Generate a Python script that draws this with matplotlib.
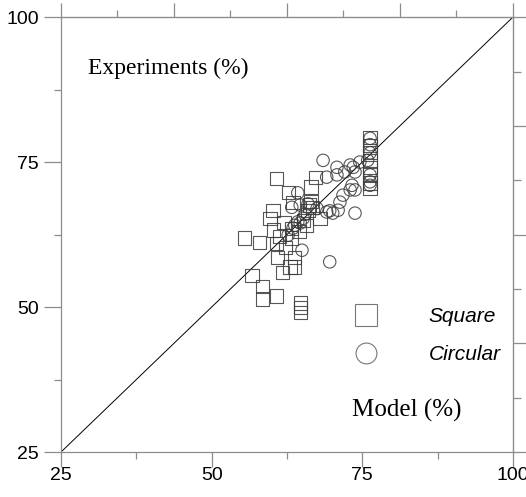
import numpy as np
import matplotlib.pyplot as plt
from matplotlib.lines import Line2D

# model vs experiment values (%) for the two section shapes
square_model = [60.7, 67.3, 66.5, 62.7, 63.5, 60.2, 59.7, 60.3, 61.3, 60.8,
                62.2, 61.0, 63.8, 63.8, 63.0, 61.8, 55.4, 57.9, 56.7, 58.4,
                58.4, 60.7, 64.7, 64.7, 64.7, 66.3, 66.8, 68.0, 63.2, 63.3,
                65.8, 66.0, 64.5, 65.3, 66.5, 62.0,
                76.3, 76.3, 76.3, 76.3, 76.3, 76.3, 76.3, 76.3]
square_exp = [72.2, 72.4, 70.7, 69.7, 68.1, 66.7, 65.3, 63.3, 62.2, 60.9,
              60.3, 58.6, 58.5, 56.9, 56.9, 56.0, 61.9, 61.2, 55.5, 53.6,
              51.4, 51.9, 50.7, 49.9, 49.1, 67.6, 67.2, 65.3, 61.9, 63.6,
              64.1, 66.7, 63.0, 65.0, 68.2, 64.6,
              79.3, 77.9, 76.6, 75.3, 74.0, 72.8, 71.4, 70.5]

circle_model = [68.5, 70.8, 69.1, 72.1, 73.5, 74.6, 75.9, 73.8, 73.0, 73.8,
                73.3, 71.8, 71.3, 70.1, 71.0, 73.8, 64.3, 64.7, 63.3, 69.1,
                64.3, 63.8, 65.2, 65.0, 69.6, 69.6, 63.5, 64.7, 62.7, 70.8,
                73.0, 67.5, 66.0, 65.5,
                76.3, 76.3, 76.3, 76.3, 76.3, 76.3]
circle_exp = [75.3, 72.8, 72.4, 73.3, 74.1, 75.0, 75.3, 73.3, 70.2, 70.2,
              71.0, 69.3, 68.1, 66.2, 66.7, 66.2, 69.7, 67.6, 67.2, 66.4,
              64.7, 64.1, 65.3, 59.8, 57.8, 66.6, 63.6, 64.5, 62.4, 74.1,
              74.5, 67.0, 67.8, 66.0,
              79.1, 78.0, 76.6, 72.8, 71.6, 71.0]

major = [25, 50, 75, 100]
minor = [37.5, 62.5, 87.5]
frame_major = [25 + 18.75 * k for k in range(5)]
frame_minor = [34.375 + 18.75 * k for k in range(4)]

grey = '#8c8c8c'

fig = plt.figure(figsize=(5.26, 4.97), dpi=100)
ax = fig.add_axes([0.116, 0.0905, 0.859, 0.875])

ax.plot([25, 100], [25, 100], color='black', lw=0.7, zorder=1)
ax.scatter(square_model, square_exp, marker='s', s=90, facecolors='none',
           edgecolors='#3a3a3a', linewidths=0.8, alpha=0.85, zorder=2)
ax.scatter(circle_model, circle_exp, marker='o', s=80, facecolors='none',
           edgecolors='#3a3a3a', linewidths=0.8, alpha=0.85, zorder=2)

ax.set_xlim(25, 100)
ax.set_ylim(25, 100)
for sp in ax.spines.values():
    sp.set_color(grey)
    sp.set_linewidth(0.9)

ax.set_xticks(major)
ax.set_xticks(minor, minor=True)
ax.set_yticks(major)
ax.set_yticks(minor, minor=True)
ax.tick_params(axis='both', which='both', direction='out', color=grey,
               width=0.9, labelsize=14)
ax.tick_params(axis='x', which='major', length=11, pad=0)
ax.tick_params(axis='y', which='major', length=12, pad=4)
ax.tick_params(axis='both', which='minor', length=5)
for lab in ax.get_xticklabels() + ax.get_yticklabels():
    lab.set_fontfamily('Liberation Sans')

top = ax.secondary_xaxis('top')
top.set_xticks(frame_major)
top.set_xticks(frame_minor, minor=True)
top.tick_params(which='both', direction='out', color=grey, width=0.9,
                labeltop=False)
top.tick_params(which='major', length=10)
top.tick_params(which='minor', length=5)
top.spines['top'].set_color(grey)

right = ax.secondary_yaxis('right')
right.set_yticks(frame_major)
right.set_yticks(frame_minor, minor=True)
right.tick_params(which='both', direction='out', color=grey, width=0.9,
                  labelright=False)
right.tick_params(which='major', length=9.5)
right.tick_params(which='minor', length=6)
right.spines['right'].set_color(grey)

ax.text(29.5, 91.2, 'Experiments (%)', family='Liberation Serif',
        fontsize=17, va='center', ha='left')
ax.text(73.3, 32.2, 'Model (%)', family='Liberation Serif',
        fontsize=18, va='center', ha='left')

handles = [Line2D([], [], marker='s', ls='none', markersize=16,
                  markerfacecolor='none', markeredgecolor='#777777',
                  markeredgewidth=0.8),
           Line2D([], [], marker='o', ls='none', markersize=15,
                  markerfacecolor='none', markeredgecolor='#777777',
                  markeredgewidth=0.8)]
ax.legend(handles, ['Square', 'Circular'], loc='center left',
          bbox_to_anchor=(0.588, 0.268), frameon=False, handletextpad=2.0,
          labelspacing=0.9, prop={'family': 'Liberation Sans',
                                  'style': 'italic', 'size': 15})

fig.savefig('out.png', dpi=100)
